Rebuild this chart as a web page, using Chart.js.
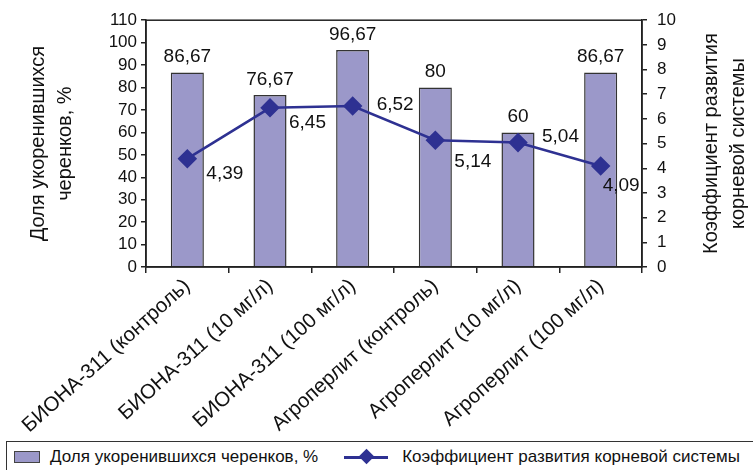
<!DOCTYPE html>
<html>
<head>
<meta charset="utf-8">
<script src="https://cdn.jsdelivr.net/npm/chart.js@4/dist/chart.umd.min.js"></script>
<style>
    body { margin: 0; background: #fff; font-family: "Liberation Sans", Arial, sans-serif; }
    #wrap { position: relative; width: 753px; height: 470px; overflow: hidden; }
    #chart { position: absolute; left: 0; top: 0; }
    #legend {
        position: absolute; left: 6px; top: 441px; width: 760px; height: 36px;
        border: 1.5px solid #333; box-sizing: border-box;
        display: flex; align-items: center; font-size: 17px; color: #111;
        padding-bottom: 4px;
    }
    .box { width: 24px; height: 10px; background: #9b98c9; border: 1.5px solid #444; margin: 0 10px 0 7px; }
    .ln { position: relative; width: 44px; height: 3px; background: #2e3192; margin: 0 14px 0 26px; }
    .ln:after {
        content: ''; position: absolute; left: 17px; top: -4.5px; width: 11px; height: 11px;
        background: #2e3192; transform: rotate(45deg);
    }
</style>
</head>
<body>
<div id="wrap">
    <canvas id="chart" width="753" height="440"></canvas>
    <div id="legend">
        <span class="box"></span><span>Доля укоренившихся черенков, %</span>
        <span class="ln"></span><span>Коэффициент развития корневой системы</span>
    </div>
</div>
<script>
// Data
const categories = [
    'БИОНА-311 (контроль)',
    'БИОНА-311 (10 мг/л)',
    'БИОНА-311 (100 мг/л)',
    'Агроперлит (контроль)',
    'Агроперлит (10 мг/л)',
    'Агроперлит (100 мг/л)'
];
const rootedShare = [86.67, 76.67, 96.67, 80, 60, 86.67];
const rootCoef = [4.39, 6.45, 6.52, 5.14, 5.04, 4.09];
const leftTicks = [0, 10, 20, 30, 40, 50, 60, 70, 80, 90, 100, 110];
const rightTicks = [0, 1, 2, 3, 4, 5, 6, 7, 8, 9, 10];
const leftTitle = ['Доля укоренившихся', 'черенков, %'];
const rightTitle = ['Коэффициент развития', 'корневой системы'];

const FONT = '"Liberation Sans", Arial, sans-serif';
const BAR = '#9b98c9';
const LINE = '#2e3192';

function fmt(v) {
    return String(v).replace('.', ',');
}

function vtext(ctx, lines, x, y) {
    // rotated -90deg, reads bottom to top
    ctx.save();
    ctx.translate(x, y);
    ctx.rotate(-Math.PI / 2);
    ctx.textAlign = 'center';
    ctx.textBaseline = 'middle';
    lines.forEach((t, i) => ctx.fillText(t, 0, i * 27));
    ctx.restore();
}

// frame, axis titles and value labels
const extras = {
    id: 'extras',
    afterDatasetsDraw(chart) {
        const ctx = chart.ctx;
        const a = chart.chartArea;
        ctx.save();
        ctx.strokeStyle = '#222';
        ctx.lineWidth = 1.5;
        ctx.strokeRect(a.left, a.top, a.right - a.left, a.bottom - a.top);

        ctx.fillStyle = '#111';
        ctx.font = '20px ' + FONT;
        const midY = (a.top + a.bottom) / 2;
        vtext(ctx, leftTitle, 38, midY);
        vtext(ctx, rightTitle, 711, midY);

        ctx.font = '19px ' + FONT;
        ctx.textAlign = 'center';
        ctx.textBaseline = 'bottom';
        chart.getDatasetMeta(1).data.forEach((bar, i) => {
            ctx.fillText(fmt(rootedShare[i]), bar.x, bar.y - 6);
        });

        // line labels sit below-right of the marker, a few above-right
        ctx.textAlign = 'left';
        ctx.textBaseline = 'middle';
        const pts = chart.getDatasetMeta(0).data;
        pts.forEach((p, i) => {
            let dx = 19, dy = 15;
            if (i === 2) { dx = 24; dy = -1; }
            if (i === 3) { dy = 22; }
            if (i === 4) { dx = 24; dy = -6; }
            if (i === 5) { dx = 2; dy = 20; }
            ctx.fillText(fmt(rootCoef[i]), p.x + dx, p.y + dy);
        });
        ctx.restore();
    }
};

const ctx = document.getElementById('chart').getContext('2d');
new Chart(ctx, {
    data: {
        labels: categories,
        datasets: [
            {
                type: 'line',
                label: 'Коэффициент развития корневой системы',
                data: rootCoef,
                yAxisID: 'y2',
                borderColor: LINE,
                borderWidth: 2.5,
                pointStyle: 'rectRot',
                pointRadius: 8,
                pointBackgroundColor: LINE,
                pointBorderColor: LINE,
                tension: 0,
                order: 0
            },
            {
                type: 'bar',
                label: 'Доля укоренившихся черенков, %',
                data: rootedShare,
                yAxisID: 'y',
                backgroundColor: BAR,
                borderColor: '#333',
                borderWidth: 1.5,
                barPercentage: 0.4,
                categoryPercentage: 1,
                order: 1
            }
        ]
    },
    options: {
        responsive: false,
        animation: false,
        layout: { padding: { top: 19, right: 0, left: 0, bottom: 0 } },
        plugins: {
            legend: { display: false },
            tooltip: { enabled: false }
        },
        scales: {
            x: {
                offset: true,
                grid: { offset: true, drawOnChartArea: false, drawTicks: true, tickLength: 6, color: '#222', lineWidth: 1.5 },
                border: { color: '#222', width: 1.5 },
                ticks: {
                    color: '#111', font: { family: FONT, size: 20.5 },
                    minRotation: 42, maxRotation: 42, autoSkip: false, padding: 1
                },
                afterFit(s) { s.height = 173; }
            },
            y: {
                position: 'left',
                min: 0, max: 110,
                afterBuildTicks(s) { s.ticks = leftTicks.map(v => ({ value: v })); },
                grid: { drawOnChartArea: false, tickLength: 5, color: '#222', lineWidth: 1.5 },
                border: { color: '#222', width: 1.5 },
                ticks: { color: '#111', font: { family: FONT, size: 17 }, padding: 4, autoSkip: false },
                afterFit(s) { s.width = 146; }
            },
            y2: {
                position: 'right',
                min: 0, max: 10,
                afterBuildTicks(s) { s.ticks = rightTicks.map(v => ({ value: v })); },
                grid: { drawOnChartArea: false, tickLength: 5, color: '#222', lineWidth: 1.5 },
                border: { color: '#222', width: 1.5 },
                ticks: { color: '#111', font: { family: FONT, size: 17 }, padding: 10, autoSkip: false },
                afterFit(s) { s.width = 111; }
            }
        }
    },
    plugins: [extras]
});
</script>
</body>
</html>
